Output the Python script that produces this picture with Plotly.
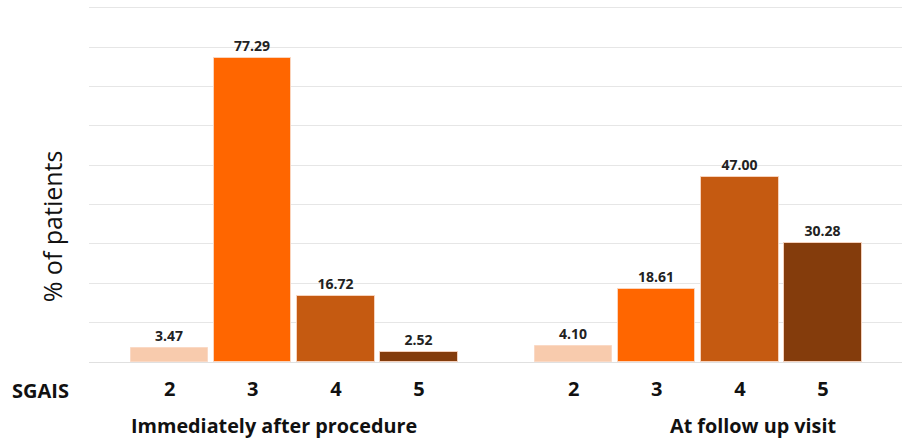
import plotly.graph_objects as go

# SGAIS score distribution, two time points
groups = ["Immediately after procedure", "At follow up visit"]
scores = ["2", "3", "4", "5"]
after_procedure = [3.47, 77.29, 16.72, 2.52]
follow_up = [4.10, 18.61, 47.00, 30.28]
bar_colors = ["#F8CBAD", "#FF6600", "#C55A11", "#843C0C"]

series = [after_procedure, follow_up]
group_gap = 0.86  # extra spacing between the two groups, in bar slots

FONT = "Open Sans, Arial, sans-serif"

fig = go.Figure()
xs_all, labels_all = [], []
for g, values in enumerate(series):
    xs = [g * (len(scores) + group_gap) + i for i in range(len(scores))]
    xs_all += xs
    labels_all += scores
    fig.add_trace(go.Bar(
        x=xs, y=values, width=0.93,
        marker=dict(color=bar_colors, line=dict(color="rgba(250,215,195,0.9)", width=1)),
        text=[f"{v:.2f}" for v in values], textposition="outside",
        textfont=dict(family=FONT, size=14, color="#222222"),
        texttemplate="<b>%{text}</b>",
        cliponaxis=False, showlegend=False, hoverinfo="skip",
    ))

fig.update_layout(
    width=902, height=441,
    margin=dict(l=89, r=0, t=6, b=79),
    paper_bgcolor="white", plot_bgcolor="white",
    bargap=0,
    xaxis=dict(
        tickmode="array", tickvals=xs_all,
        ticktext=[f"<b>{t}</b>" for t in labels_all],
        tickfont=dict(family=FONT, size=20, color="#111111"),
        range=[-0.97, xs_all[-1] + 0.95],
        showgrid=False, zeroline=False, showline=False, ticks="", ticklen=0,
    ),
    yaxis=dict(
        range=[0, 90.5], dtick=10, showticklabels=False,
        showgrid=True, gridcolor="#E6E6E6", gridwidth=1,
        zeroline=True, zerolinecolor="#E0E0E0", zerolinewidth=1,
    ),
)
fig.update_xaxes(ticklabelstandoff=13)

# y-axis title, set a little below the vertical middle of the plot
fig.add_annotation(text="% of patients", xref="paper", yref="paper", x=-0.046, y=0.38,
                   xanchor="center", yanchor="middle", textangle=-90, showarrow=False,
                   font=dict(family=FONT, size=25, color="#111111"))

fig.add_annotation(text="<b>SGAIS</b>", xref="paper", yref="paper", x=-0.060, y=-0.08,
                   xanchor="center", yanchor="middle", showarrow=False,
                   font=dict(family=FONT, size=20, color="#111111"))
group_title_x = [0.228, 0.817]
for name, gx in zip(groups, group_title_x):
    fig.add_annotation(text=f"<b>{name}</b>", xref="paper", yref="paper", x=gx, y=-0.178,
                       xanchor="center", yanchor="middle", showarrow=False,
                       font=dict(family=FONT, size=19.8, color="#111111"))

fig.write_html("out.html")
